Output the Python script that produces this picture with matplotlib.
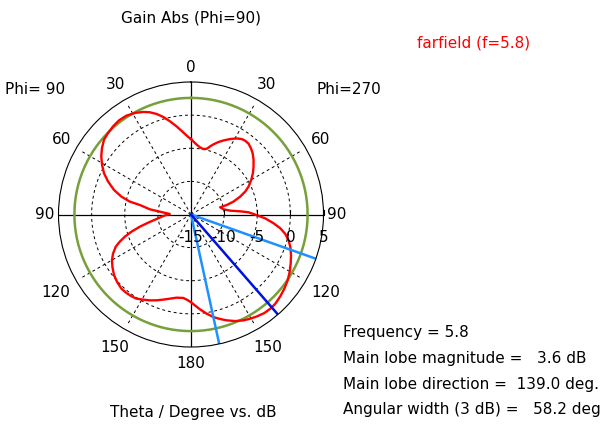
import numpy as np
import matplotlib
matplotlib.use("Agg")
import matplotlib.pyplot as plt

# ---- data (angle clockwise from top in degrees, gain in dB) ----
angle_deg = [0, 1.8, 4.7, 7.7, 10.7, 13.5, 15.6, 17.7, 20.7, 23.7, 27.4, 31.1, 34, 36.3,
             39.1, 42, 45.1, 48.8, 52.5, 56.3, 60.1, 64.1, 67.1, 70, 73.1, 75.1, 76.1,
             80.9, 84.4, 86.3, 87.8, 90.1, 93, 96.1, 98.8, 101.7, 105, 108.3, 112.1,
             116.2, 120.2, 124.2, 128.4, 132.5, 136.6, 139.9, 143.4, 147.1, 150.4, 153.6,
             157.5, 161.3, 164.4, 167.7, 171, 174.6, 177.5, 180, 182.5, 185.3, 189.8,
             194.1, 198.1, 201.9, 205.6, 209.3, 213, 216.1, 219.5, 223.2, 227.6, 231.7,
             236.3, 240, 243.4, 246.8, 249.1, 251.4, 253.9, 256.6, 259.2, 262.5, 266.9,
             271.4, 275.2, 277.2, 280.5, 281.9, 284.4, 287.7, 291.7, 295.4, 299.2, 302.9,
             306.7, 310.7, 314.5, 318.5, 322.6, 326.8, 331, 335, 338.1, 341.1, 344.1,
             347.3, 350.7, 354.6, 358, 360]
gain_db = [-3.61, -3.96, -4.43, -4.78, -4.95, -4.8, -4.33, -3.89, -3.31, -2.79, -2.17, -1.59,
           -1.27, -1.18, -1.23, -1.5, -1.87, -2.45, -3.1, -3.77, -4.51, -5.34, -6.12, -7.1,
           -8.3, -9.41, -10.47, -10.04, -9.06, -7.56, -6.31, -5.3, -3.77, -2.45, -1.35,
           -0.45, 0.27, 0.8, 1.3, 1.77, 2.23, 2.65, 2.99, 3.28, 3.53, 3.59, 3.54, 3.32,
           3.09, 2.84, 2.41, 1.87, 1.38, 0.84, 0.16, -0.62, -1.27, -1.75, -2.1, -2.35,
           -2.26, -1.9, -1.48, -1.04, -0.63, -0.26, 0.14, 0.27, 0.34, 0.35, 0.1, -0.2,
           -0.74, -1.23, -1.84, -2.64, -3.48, -4.45, -5.64, -7.06, -8.42, -9.75, -10.8,
           -11.8, -10.28, -8.74, -7.17, -5.56, -4.15, -2.8, -1.52, -0.46, 0.38, 1.13,
           1.76, 2.32, 2.55, 2.76, 2.89, 2.82, 2.52, 2.08, 1.63, 1.04, 0.31, -0.58,
           -1.52, -2.55, -3.3, -3.61]

r_min, r_max = -15, 5
ring_values = [-10, -5, 0]
radial_labels = ["-15", "-10", "-5", "0", "5"]
radial_label_values = [-15, -10, -5, 0, 5]
angle_ticks = [0, 30, 60, 90, 120, 150, 180, 210, 240, 270, 300, 330]
angle_tick_labels = ["0", "30", "60", "90", "120", "150", "180", "150", "120", "90", "60", "30"]
threshold_db = 2.6
main_lobe_dir = 139.0
beam_edges = [109.5, 167.7]
stats_lines = ["Frequency = 5.8",
               "Main lobe magnitude =   3.6 dB",
               "Main lobe direction =  139.0 deg.",
               "Angular width (3 dB) =   58.2 deg"]

W, H = 611, 428
fig = plt.figure(figsize=(W / 100, H / 100), dpi=100)
cx, cy, R = 191, 214.5, 132.5
ax = fig.add_axes([(cx - R) / W, (H - cy - R) / H, 2 * R / W, 2 * R / H], projection="polar")
ax.set_theta_zero_location("N")
ax.set_theta_direction(-1)
ax.set_rlim(r_min, r_max)
ax.grid(False)
ax.set_xticks([])
ax.set_yticks([])
ax.spines["polar"].set_color("black")
ax.spines["polar"].set_linewidth(0.8)

def px2db(p):
    return r_min + p * (r_max - r_min) / R

full = np.linspace(0, 2 * np.pi, 361)
for rv in ring_values:
    ax.plot(full, np.full_like(full, rv), color="black", ls=(0, (3, 3)), lw=0.7)
for a in angle_ticks:
    if a % 90 != 0:
        ax.plot([np.radians(a)] * 2, [r_min, px2db(127)], color="black", ls=(0, (3, 3)), lw=0.7)
for a in [0, 90, 180, 270]:
    ax.plot([np.radians(a)] * 2, [r_min, r_max], color="black", lw=0.9)
# small ticks on the right horizontal axis
for rv in [-10, -5, 0, 5]:
    x = cx + (rv - r_min) / (r_max - r_min) * R
    fig.add_artist(plt.Line2D([x / W, x / W], [(H - cy) / H, (H - cy + 4) / H], color="black", lw=0.8))

ax.plot(full, np.full_like(full, threshold_db), color="#76a03a", lw=1.8)
ax.plot(np.radians(angle_deg), gain_db, color="#ff0000", lw=1.7)
for e in beam_edges:
    ax.plot([np.radians(e)] * 2, [r_min, r_max], color="#1e90ff", lw=1.8)
ax.plot([np.radians(main_lobe_dir)] * 2, [r_min, r_max], color="#0010e0", lw=1.8)

fs = 11
label_r = {0: 147.5, 180: 148.5, 90: 146, 270: 146, 30: 150, 330: 150,
           60: 150, 300: 150, 120: 156, 240: 156, 150: 153, 210: 153}
for a, lab in zip(angle_ticks, angle_tick_labels):
    rp = label_r[a]
    ax.text(np.radians(a), px2db(rp), lab, ha="center", va="center", fontsize=fs, clip_on=False)

for v, lab in zip(radial_label_values, radial_labels):
    x = cx + (v - r_min) / (r_max - r_min) * R
    fig.text(x / W, 1 - 237 / H, lab, ha="center", va="center", fontsize=fs)

fig.text(191 / W, 1 - 18 / H, "Gain Abs (Phi=90)", ha="center", va="center", fontsize=fs)
fig.text(474 / W, 1 - 43.5 / H, "farfield (f=5.8)", ha="center", va="center", fontsize=fs, color="#ff0000")
fig.text(5 / W, 1 - 90 / H, "Phi= 90", ha="left", va="center", fontsize=fs)
fig.text(316 / W, 1 - 90 / H, "Phi=270", ha="left", va="center", fontsize=fs)
fig.text(193 / W, 1 - 413 / H, "Theta / Degree vs. dB", ha="center", va="center", fontsize=fs)
for i, line in enumerate(stats_lines):
    fig.text(343 / W, 1 - (333 + 25.5 * i) / H, line, ha="left", va="center", fontsize=fs)

fig.savefig("out.png", dpi=100)
